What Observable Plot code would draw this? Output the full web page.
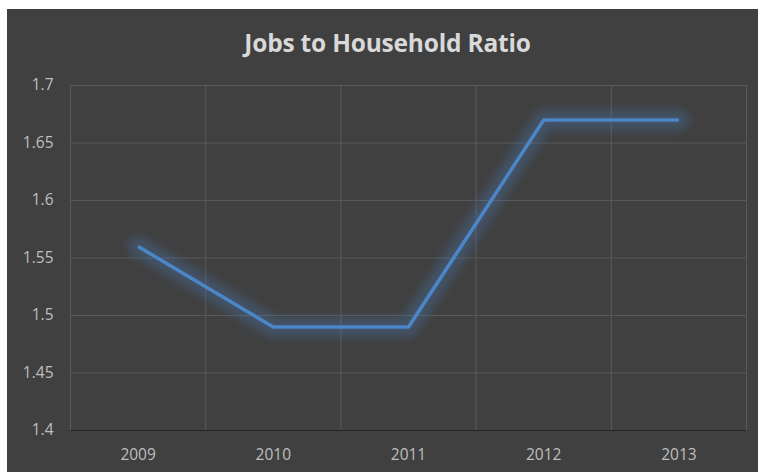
<!DOCTYPE html>
<html>
<head>
<meta charset="utf-8">
<script src="https://cdn.jsdelivr.net/npm/d3@7"></script>
<script src="https://cdn.jsdelivr.net/npm/@observablehq/plot@0.6"></script>
<style>
  html, body { margin: 0; padding: 0; background: #ffffff; }
  #frame {
    position: absolute; left: 7px; top: 9px; width: 751px; height: 463px;
    background: #404040; overflow: hidden;
  }
  #title {
    height: 53px; padding-top: 8px; padding-left: 10px; line-height: 52px; text-align: center;
    font-family: "Open Sans", sans-serif; font-weight: 700; font-size: 24.5px;
    color: #d9d9d9; letter-spacing: -0.2px;
  }
  svg { display: block; }
</style>
</head>
<body>
<div id="frame">
  <div id="title">Jobs to Household Ratio</div>
  <div id="chart"></div>
</div>
<script>
const years = [2009, 2010, 2011, 2012, 2013];
const ratios = [1.56, 1.49, 1.49, 1.67, 1.67];
const yTicks = [1.4, 1.45, 1.5, 1.55, 1.6, 1.65, 1.7];
const yTickLabels = ["1.4", "1.45", "1.5", "1.55", "1.6", "1.65", "1.7"];

const data = years.map((year, i) => ({year, ratio: ratios[i]}));
const bounds = years.map(y => y - 0.5).concat([years[years.length - 1] + 0.5]);

const chart = Plot.plot({
  width: 751,
  height: 402,
  marginTop: 15,
  marginBottom: 42,
  marginLeft: 63,
  marginRight: 12,
  style: {
    background: "transparent",
    color: "#bfbfbf",
    fontFamily: "'Open Sans', sans-serif",
    fontSize: "15.5px"
  },
  x: {
    domain: [bounds[0], bounds[bounds.length - 1]],
    ticks: years,
    tickFormat: d => String(d),
    tickSize: 0,
    tickPadding: 18,
    label: null
  },
  y: {
    domain: [1.4, 1.7],
    ticks: yTicks,
    tickFormat: d => yTickLabels[yTicks.findIndex(t => Math.abs(t - d) < 1e-9)],
    tickSize: 0,
    tickPadding: 17,
    label: null
  },
  marks: [
    Plot.ruleX(bounds, {stroke: "#595959", strokeWidth: 1}),
    Plot.ruleY(yTicks.slice(1), {stroke: "#595959", strokeWidth: 1}),
    Plot.ruleY([1.4], {stroke: "#262626", strokeWidth: 1}),
    Plot.line(data, {x: "year", y: "ratio", stroke: "#4a7fbf", strokeWidth: 20, strokeOpacity: 0.3, strokeLinejoin: "round", strokeLinecap: "round"}),
    Plot.line(data, {x: "year", y: "ratio", stroke: "#4a86c8", strokeWidth: 3.5, strokeLinejoin: "miter", strokeLinecap: "butt"})
  ]
});

document.getElementById("chart").appendChild(chart);

// soft glow on the wide line
const svg = d3.select(chart.tagName.toLowerCase() === "svg" ? chart : chart.querySelector("svg"));
const defs = svg.insert("defs", ":first-child");
const f = defs.append("filter").attr("id", "glow").attr("x", "-20%").attr("y", "-20%").attr("width", "140%").attr("height", "140%");
f.append("feGaussianBlur").attr("stdDeviation", 4);
const lines = svg.selectAll('g[aria-label="line"]').nodes();
if (lines.length) d3.select(lines[0]).attr("filter", "url(#glow)");
</script>
</body>
</html>
